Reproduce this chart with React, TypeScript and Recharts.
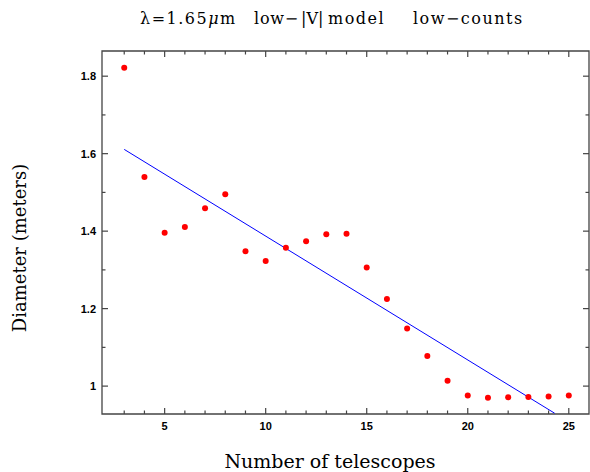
import React from 'react';
import {
  ScatterChart,
  Scatter,
  XAxis,
  YAxis,
  ReferenceLine,
  ReferenceArea,
} from 'recharts';

// telescope counts and fitted diameters
const telescopes = [3, 4, 5, 6, 7, 8, 9, 10, 11, 12, 13, 14, 15, 16, 17, 18, 19, 20, 21, 22, 23, 24, 25];
const diameters = [
  1.822, 1.54, 1.396, 1.411, 1.459, 1.495, 1.348, 1.323, 1.357, 1.374, 1.392, 1.393,
  1.306, 1.225, 1.149, 1.078, 1.014, 0.976, 0.97, 0.971, 0.972, 0.973, 0.976,
];

// linear fit end points
const fitX = [3, 24.3];
const fitY = [1.611, 0.93];

const xMajor = [5, 10, 15, 20, 25];
const xMinor = [3, 4, 6, 7, 8, 9, 11, 12, 13, 14, 16, 17, 18, 19, 21, 22, 23, 24];
const yMajor = [1, 1.2, 1.4, 1.6, 1.8];
const yMinor = [1.1, 1.3, 1.5, 1.7];

const X_DOMAIN: [number, number] = [1.9, 26];
const Y_DOMAIN: [number, number] = [0.928, 1.865];

const points = telescopes.map((t, i) => ({ x: t, y: diameters[i] }));
const fitLine = fitX.map((x, i) => ({ x, y: fitY[i] }));

const FRAME = '#444';
// px per data unit, used for tick lengths (about 6px major, 3.5px minor)
const XPX = 20.2;
const YPX = 387.5;

const SERIF = "'DejaVu Serif', serif";
const tickFont = { fontFamily: 'Liberation Sans, Arial, sans-serif', fontSize: 11, fontWeight: 700, fill: '#000' };

const Dot = (p: any) => <circle cx={p.cx} cy={p.cy} r={3} fill="#ff0000" />;
const NoDot = () => <g />;

export default function App() {
  const xTicks = [
    ...xMajor.map((v) => ({ v, len: 6 })),
    ...xMinor.map((v) => ({ v, len: 3.5 })),
  ];
  const yTicks = [
    ...yMajor.map((v) => ({ v, len: 6 })),
    ...yMinor.map((v) => ({ v, len: 3.5 })),
  ];
  return (
    <div style={{ position: 'absolute', left: 0, top: 0, width: 590, height: 472, background: '#fff' }}>
      <ScatterChart width={590} height={472} margin={{ top: 51, right: 1, bottom: 28, left: 0 }}>
        <XAxis
          type="number"
          dataKey="x"
          domain={X_DOMAIN}
          ticks={xMajor}
          allowDataOverflow
          height={30}
          tickLine={false}
          tickSize={6}
          tickMargin={2}
          axisLine={false}
          tick={tickFont}
        />
        <YAxis
          type="number"
          dataKey="y"
          domain={Y_DOMAIN}
          ticks={yMajor}
          allowDataOverflow
          width={102}
          tickLine={false}
          tickSize={4}
          tickMargin={2}
          axisLine={false}
          tick={tickFont}
        />
        <ReferenceArea
          x1={X_DOMAIN[0]}
          x2={X_DOMAIN[1]}
          y1={Y_DOMAIN[0]}
          y2={Y_DOMAIN[1]}
          fill="none"
          stroke={FRAME}
          strokeWidth={1.3}
          fillOpacity={0}
        />
        {xTicks.map((t) => (
          <ReferenceLine
            key={'xb' + t.v}
            segment={[{ x: t.v, y: Y_DOMAIN[0] }, { x: t.v, y: Y_DOMAIN[0] + t.len / YPX }]}
            stroke={FRAME}
            strokeWidth={1.2}
          />
        ))}
        {xTicks.map((t) => (
          <ReferenceLine
            key={'xt' + t.v}
            segment={[{ x: t.v, y: Y_DOMAIN[1] }, { x: t.v, y: Y_DOMAIN[1] - t.len / YPX }]}
            stroke={FRAME}
            strokeWidth={1.2}
          />
        ))}
        {yTicks.map((t) => (
          <ReferenceLine
            key={'yl' + t.v}
            segment={[{ x: X_DOMAIN[0], y: t.v }, { x: X_DOMAIN[0] + t.len / XPX, y: t.v }]}
            stroke={FRAME}
            strokeWidth={1.2}
          />
        ))}
        {yTicks.map((t) => (
          <ReferenceLine
            key={'yr' + t.v}
            segment={[{ x: X_DOMAIN[1], y: t.v }, { x: X_DOMAIN[1] - t.len / XPX, y: t.v }]}
            stroke={FRAME}
            strokeWidth={1.2}
          />
        ))}
        <Scatter
          data={fitLine}
          line={{ stroke: '#0000ff', strokeWidth: 1 }}
          shape={NoDot}
          isAnimationActive={false}
        />
        <Scatter data={points} shape={Dot} isAnimationActive={false} />
      </ScatterChart>

      <svg width={590} height={472} style={{ position: 'absolute', left: 0, top: 0, pointerEvents: 'none' }}>
        <g fontFamily={SERIF} fontSize={16} letterSpacing={1.5} fill="#000">
          <text x={140} y={24}>
            λ=1.65<tspan fontStyle="italic">μ</tspan>m
          </text>
          <text x={254} y={24} letterSpacing={0.8}>low−</text>
          <text x={301} y={24} letterSpacing={0}>|V|</text>
          <text x={328} y={24}>model</text>
          <text x={413} y={24}>low−counts</text>
        </g>
        <text x={330} y={468} textAnchor="middle" fontFamily={SERIF} fontSize={19} fill="#000">
          Number of telescopes
        </text>
        <text
          x={0}
          y={0}
          textAnchor="middle"
          transform="translate(26 248) rotate(-90)"
          fontFamily={SERIF}
          fontSize={18}
          fill="#000"
        >
          Diameter (meters)
        </text>
      </svg>
    </div>
  );
}
